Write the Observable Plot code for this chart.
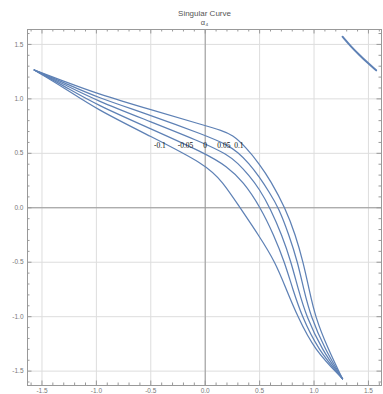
<!DOCTYPE html>
<html>
<head>
<meta charset="utf-8">
<script src="https://cdn.jsdelivr.net/npm/d3@7"></script>
<script src="https://cdn.jsdelivr.net/npm/@observablehq/plot@0.6"></script>
<style>
  html, body { margin: 0; padding: 0; background: #fff; }
  svg { display: block; }
</style>
</head>
<body>
<div id="chart"></div>
<script>
// ---- data ----
const titleText = "Singular Curve";
const subtitleText = "α₄";
const params = [-0.1, -0.05, 0, 0.05, 0.1];

const xM10 = [-1.571, -1.3, -1.0, -0.5, 0.0, 0.16, 0.32, 0.49, 0.645, 0.745, 0.85, 1.0, 1.262];
const yM10 = [1.265, 1.105, 0.905, 0.655, 0.40, 0.24, 0.0, -0.25, -0.5, -0.75, -1.0, -1.3, -1.571];

const xM05 = [-1.571, -1.3, -1.0, -0.5, 0.0, 0.2, 0.35, 0.51, 0.63, 0.73, 0.805, 0.89, 1.035, 1.262];
const yM05 = [1.265, 1.12, 0.945, 0.725, 0.50, 0.38, 0.24, 0.0, -0.25, -0.5, -0.75, -1.0, -1.3, -1.571];

const x0 = [-1.571, -1.3, -1.0, -0.5, 0.0, 0.2, 0.3, 0.4, 0.5, 0.595, 0.705, 0.79, 0.855, 0.93, 1.07, 1.262];
const y0 = [1.265, 1.135, 0.985, 0.79, 0.59, 0.49, 0.41, 0.30, 0.17, 0.0, -0.25, -0.5, -0.75, -1.0, -1.3, -1.571];

const xP05 = [-1.571, -1.3, -1.0, -0.5, 0.0, 0.2, 0.3, 0.4, 0.5, 0.59, 0.675, 0.77, 0.85, 0.905, 0.97, 1.10, 1.262];
const yP05 = [1.265, 1.15, 1.015, 0.85, 0.665, 0.58, 0.51, 0.41, 0.28, 0.14, 0.0, -0.25, -0.5, -0.75, -1.0, -1.3, -1.571];

const xP10 = [-1.571, -1.3, -1.0, -0.5, 0.0, 0.15, 0.25, 0.37, 0.5, 0.6, 0.735, 0.83, 0.9, 0.955, 1.01, 1.13, 1.262];
const yP10 = [1.265, 1.163, 1.05, 0.90, 0.755, 0.71, 0.67, 0.56, 0.40, 0.25, 0.0, -0.25, -0.5, -0.75, -1.0, -1.3, -1.571];

const branchX = [1.262, 1.34, 1.415, 1.49, 1.571];
const branchY = [1.571, 1.48, 1.405, 1.333, 1.262];

const labelTexts = ["-0.1", "-0.05", "0", "0.05", "0.1"];
const labelX = [-0.417, -0.181, 0.0, 0.171, 0.309];
const labelY = 0.572;

const xDomain = [-1.633, 1.62];
const yDomain = [-1.632, 1.637];
const majorTicks = [-1.5, -1.0, -0.5, 0.0, 0.5, 1.0, 1.5];
const minorTicksX = [-1.6, -1.4, -1.3, -1.2, -1.1, -0.9, -0.8, -0.7, -0.6, -0.4, -0.3, -0.2, -0.1, 0.1, 0.2, 0.3, 0.4, 0.6, 0.7, 0.8, 0.9, 1.1, 1.2, 1.3, 1.4, 1.6];
const minorTicksY = [-1.6, -1.4, -1.3, -1.2, -1.1, -0.9, -0.8, -0.7, -0.6, -0.4, -0.3, -0.2, -0.1, 0.1, 0.2, 0.3, 0.4, 0.6, 0.7, 0.8, 0.9, 1.1, 1.2, 1.3, 1.4, 1.6];

// ---- build table ----
const curveXs = [xM10, xM05, x0, xP05, xP10];
const curveYs = [yM10, yM05, y0, yP05, yP10];
const rows = params.flatMap((k, i) => curveXs[i].map((x, j) => ({k, x, y: curveYs[i][j]})));
const branchRows = branchX.map((x, j) => ({x, y: branchY[j]}));
const labels = labelTexts.map((t, i) => ({t, x: labelX[i], y: labelY}));

const W = 383, H = 394;
const mT = 29, mB = 9, mL = 27, mR = 2;
const fh = H - mT - mB, fw = W - mL - mR;
const tickCol = "#999";
const lineCol = "#5E81B5";

const chart = Plot.plot({
  width: W, height: H,
  marginTop: mT, marginBottom: mB, marginLeft: mL, marginRight: mR,
  x: {domain: xDomain, axis: null},
  y: {domain: yDomain, axis: null},
  style: {fontFamily: "Liberation Sans, Arial, sans-serif", background: "#fff"},
  marks: [
    Plot.ruleX(majorTicks, {x: d => d, stroke: "#ddd", strokeWidth: 1}),
    Plot.ruleY(majorTicks, {y: d => d, stroke: "#ddd", strokeWidth: 1}),
    Plot.ruleX([0], {x: d => d, stroke: "#999", strokeWidth: 1}),
    Plot.ruleY([0], {y: d => d, stroke: "#999", strokeWidth: 1}),
    Plot.ruleX(majorTicks, {x: d => d, insetTop: fh - 4.5, stroke: tickCol}),
    Plot.ruleX(majorTicks, {x: d => d, insetBottom: fh - 4.5, stroke: tickCol}),
    Plot.ruleX(minorTicksX, {x: d => d, insetTop: fh - 2.5, stroke: tickCol}),
    Plot.ruleX(minorTicksX, {x: d => d, insetBottom: fh - 2.5, stroke: tickCol}),
    Plot.ruleY(majorTicks, {y: d => d, insetRight: fw - 4.5, stroke: tickCol}),
    Plot.ruleY(majorTicks, {y: d => d, insetLeft: fw - 4.5, stroke: tickCol}),
    Plot.ruleY(minorTicksY, {y: d => d, insetRight: fw - 2.5, stroke: tickCol}),
    Plot.ruleY(minorTicksY, {y: d => d, insetLeft: fw - 2.5, stroke: tickCol}),
    Plot.frame({stroke: "#999", strokeWidth: 1}),
    Plot.axisX(majorTicks, {tickSize: 0, tickPadding: 3, tickFormat: d => d.toFixed(1), label: null, fontSize: 6.5, color: "#777"}),
    Plot.axisY(majorTicks, {tickSize: 0, tickPadding: 4, tickFormat: d => d.toFixed(1), label: null, fontSize: 6.5, color: "#777"}),
    Plot.line(rows, {x: "x", y: "y", z: "k", curve: "basis", stroke: lineCol, strokeWidth: 1.25}),
    Plot.line(branchRows, {x: "x", y: "y", curve: "basis", stroke: lineCol, strokeWidth: 2}),
    Plot.text(labels, {x: "x", y: "y", text: "t", fontSize: 7.5, fill: "#111", fontFamily: "Liberation Serif, serif"}),
    Plot.text([titleText], {frameAnchor: "top", dy: -19, text: d => d, fontSize: 8, fill: "#555"}),
    Plot.text([subtitleText], {frameAnchor: "top", dy: -10, text: d => d, fontSize: 7.5, fill: "#555"})
  ]
});
document.getElementById("chart").appendChild(chart);
</script>
</body>
</html>
